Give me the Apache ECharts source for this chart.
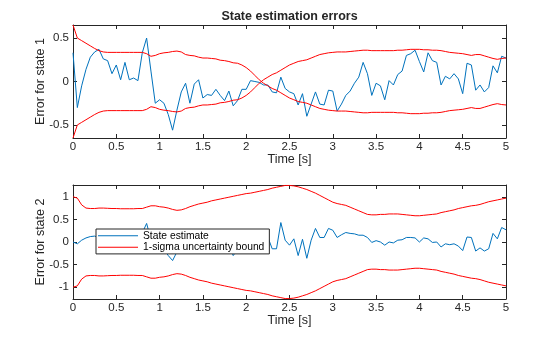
<!DOCTYPE html>
<html>
<head>
<meta charset="utf-8">
<script src="https://cdn.jsdelivr.net/npm/echarts@6/dist/echarts.min.js"></script>
<style>html,body{margin:0;padding:0;background:#fff;}#c{width:560px;height:337px;}</style>
</head>
<body>
<div id="c"></div>
<script>
// sample step of the time grid [s]
const dt = 0.05;
const nSamples = 101;
const xTicks = [0, 0.5, 1, 1.5, 2, 2.5, 3, 3.5, 4, 4.5, 5];
const yTicks1 = [-0.5, 0, 0.5];
const yTicks2 = [-1, -0.5, 0, 0.5, 1];

// state 1 estimation error
const err1 = [0.33,-0.30,-0.05,0.14,0.28,0.34,0.37,0.26,0.24,0.09,
  0.19,0.02,0.22,0.02,0.04,0.01,0.33,0.50,0.12,-0.25,
  -0.21,-0.25,-0.38,-0.56,-0.33,-0.12,-0.02,-0.25,-0.03,0.02,
  -0.19,-0.15,-0.16,-0.09,-0.16,-0.22,-0.11,-0.28,-0.22,-0.09,
  -0.09,0.01,0.00,-0.01,-0.04,-0.04,-0.12,-0.13,0.05,-0.08,
  -0.12,-0.14,-0.27,-0.14,-0.40,-0.26,-0.12,-0.26,-0.27,-0.10,
  -0.11,-0.34,-0.26,-0.16,-0.11,-0.02,0.05,0.22,0.09,-0.16,
  -0.02,-0.05,-0.21,0.01,-0.04,0.08,0.12,0.30,0.32,0.36,
  0.23,0.11,0.33,0.24,0.22,-0.04,0.06,0.03,0.09,0.03,
  -0.14,0.21,0.19,-0.10,-0.04,-0.12,-0.07,0.18,0.10,0.29,0.27];

// state 1 one-sigma bound (upper curve; lower curve is its mirror)
const bound1 = [0.65,0.50,0.47,0.44,0.41,0.38,0.355,0.34,0.335,0.335,
  0.335,0.335,0.335,0.335,0.335,0.335,0.335,0.32,0.29,0.30,
  0.32,0.33,0.335,0.345,0.35,0.34,0.31,0.30,0.295,0.28,
  0.27,0.27,0.265,0.26,0.245,0.24,0.23,0.215,0.21,0.19,
  0.16,0.12,0.07,0.02,-0.02,-0.05,-0.08,-0.10,-0.13,-0.16,
  -0.19,-0.21,-0.23,-0.24,-0.25,-0.27,-0.29,-0.31,-0.32,-0.33,
  -0.335,-0.34,-0.34,-0.34,-0.345,-0.35,-0.355,-0.36,-0.36,-0.355,
  -0.355,-0.355,-0.355,-0.355,-0.355,-0.36,-0.36,-0.365,-0.37,-0.37,
  -0.37,-0.365,-0.365,-0.36,-0.36,-0.355,-0.345,-0.335,-0.33,-0.325,
  -0.32,-0.31,-0.30,-0.31,-0.31,-0.295,-0.28,-0.265,-0.255,-0.265,-0.27];

// state 2 estimation error
const err2 = [0.00,-0.04,0.04,0.09,0.12,0.13,0.10,0.05,0.08,0.02,
  0.06,-0.02,0.05,-0.03,0.00,-0.02,0.20,0.41,0.05,-0.15,
  -0.12,-0.16,-0.30,-0.41,-0.22,-0.08,0.00,-0.15,-0.02,0.02,
  -0.12,-0.10,-0.11,-0.06,-0.11,-0.15,-0.08,-0.30,-0.17,-0.07,
  -0.06,0.02,0.02,0.06,0.10,0.11,-0.15,-0.15,0.43,0.04,
  -0.07,0.07,-0.30,0.06,-0.36,0.04,0.30,0.10,0.10,0.30,
  0.26,0.10,0.16,0.21,0.19,0.18,0.15,0.15,0.10,-0.01,
  0.03,0.00,-0.07,0.00,-0.02,0.04,0.05,0.10,0.10,0.09,
  0.00,0.09,0.07,-0.01,0.00,-0.11,-0.04,-0.06,-0.04,-0.09,
  -0.19,0.11,0.10,-0.20,-0.13,-0.20,-0.15,0.19,0.07,0.32,0.27];

// state 2 one-sigma bound (upper curve; lower curve is its mirror)
const bound2 = [1.00,0.97,0.82,0.75,0.74,0.74,0.75,0.75,0.745,0.74,
  0.74,0.735,0.735,0.735,0.735,0.74,0.74,0.77,0.80,0.80,
  0.78,0.77,0.75,0.72,0.70,0.71,0.74,0.78,0.81,0.84,
  0.86,0.88,0.91,0.93,0.95,0.97,0.99,1.01,1.03,1.05,
  1.07,1.08,1.10,1.12,1.14,1.16,1.19,1.21,1.23,1.25,
  1.25,1.24,1.22,1.19,1.16,1.12,1.08,1.03,0.98,0.93,
  0.88,0.85,0.83,0.81,0.77,0.73,0.69,0.65,0.61,0.60,
  0.60,0.61,0.61,0.62,0.62,0.62,0.61,0.60,0.59,0.58,
  0.58,0.59,0.60,0.61,0.62,0.65,0.67,0.69,0.71,0.74,
  0.76,0.78,0.80,0.81,0.83,0.86,0.89,0.91,0.93,0.95,0.97];

const time = Array.from({length: nSamples}, (_, i) => +(i * dt).toFixed(2));
const pairs = (arr, sign) => arr.map((v, i) => [time[i], sign * v]);

const FONT = '"Liberation Sans", Arial, sans-serif';
const INK = '#262626';
const BLUE = '#0072BD';
const RED = '#FF0000';

function xAx(grid, top, withName) {
  return {
    type: 'value', gridIndex: grid, position: top ? 'top' : 'bottom',
    min: 0, max: 5, interval: 0.5,
    name: withName ? 'Time [s]' : '', nameLocation: 'middle', nameGap: 15,
    nameMoveOverlap: false,
    nameTextStyle: {fontFamily: FONT, fontSize: 12.5, color: INK},
    axisLine: {show: true, onZero: false, lineStyle: {color: INK, width: 1}},
    axisTick: {show: true, inside: true, length: 4, lineStyle: {color: INK}},
    axisLabel: {show: !top, margin: 3, fontFamily: FONT, fontSize: 11.5, color: INK},
    splitLine: {show: false}
  };
}
function yAx(grid, right, lim, ticks, name) {
  return {
    type: 'value', gridIndex: grid, position: right ? 'right' : 'left',
    min: -lim, max: lim,
    name: name || '', nameLocation: 'middle', nameGap: 26,
    nameMoveOverlap: false,
    nameTextStyle: {fontFamily: FONT, fontSize: 12.5, color: INK},
    axisLine: {show: true, onZero: false, lineStyle: {color: INK, width: 1}},
    axisTick: {show: true, inside: true, length: 4, lineStyle: {color: INK}, customValues: ticks},
    axisLabel: {show: !right, margin: 4, fontFamily: FONT, fontSize: 11.5, color: INK, customValues: ticks},
    splitLine: {show: false}
  };
}
function line(name, data, color, xi, yi) {
  return {
    type: 'line', name: name, data: data, xAxisIndex: xi, yAxisIndex: yi,
    showSymbol: false, symbol: 'none', smooth: false,
    lineStyle: {color: color, width: 1}, itemStyle: {color: color},
    emphasis: {disabled: true}, animation: false
  };
}

const chart = echarts.init(document.getElementById('c'), null, {renderer: 'canvas'});
chart.setOption({
  backgroundColor: '#fff',
  animation: false,
  graphic: [{
    type: 'text', x: 289.5, y: 10,
    style: {text: 'State estimation errors', fontFamily: FONT, fontSize: 12.5, fontWeight: 'bold',
      fill: INK, textAlign: 'center', textVerticalAlign: 'top'}
  }],
  grid: [
    {left: 73, width: 433, top: 25, height: 113, containLabel: false},
    {left: 73, width: 433, top: 185, height: 114, containLabel: false}
  ],
  xAxis: [xAx(0, false, true), xAx(0, true, false), xAx(1, false, true), xAx(1, true, false)],
  yAxis: [
    yAx(0, false, 0.65, yTicks1, 'Error for state 1'), yAx(0, true, 0.65, yTicks1),
    yAx(1, false, 1.26, yTicks2, 'Error for state 2'), yAx(1, true, 1.26, yTicks2)
  ],
  legend: {
    orient: 'vertical', left: 96, top: 229,
    icon: 'rect', itemWidth: 40, itemHeight: 1, itemGap: 1.5,
    padding: [1.7, 5, 1.7, 2],
    borderColor: INK, borderWidth: 1, backgroundColor: '#fff',
    textStyle: {fontFamily: FONT, fontSize: 10.3, color: '#000'},
    data: ['State estimate', '1-sigma uncertainty bound'],
    selectedMode: false
  },
  series: [
    line('State estimate', pairs(err1, 1), BLUE, 0, 0),
    line('1-sigma uncertainty bound', pairs(bound1, 1), RED, 0, 0),
    line('1-sigma uncertainty bound', pairs(bound1, -1), RED, 0, 0),
    line('State estimate', pairs(err2, 1), BLUE, 2, 2),
    line('1-sigma uncertainty bound', pairs(bound2, 1), RED, 2, 2),
    line('1-sigma uncertainty bound', pairs(bound2, -1), RED, 2, 2)
  ]
});
</script>
</body>
</html>
